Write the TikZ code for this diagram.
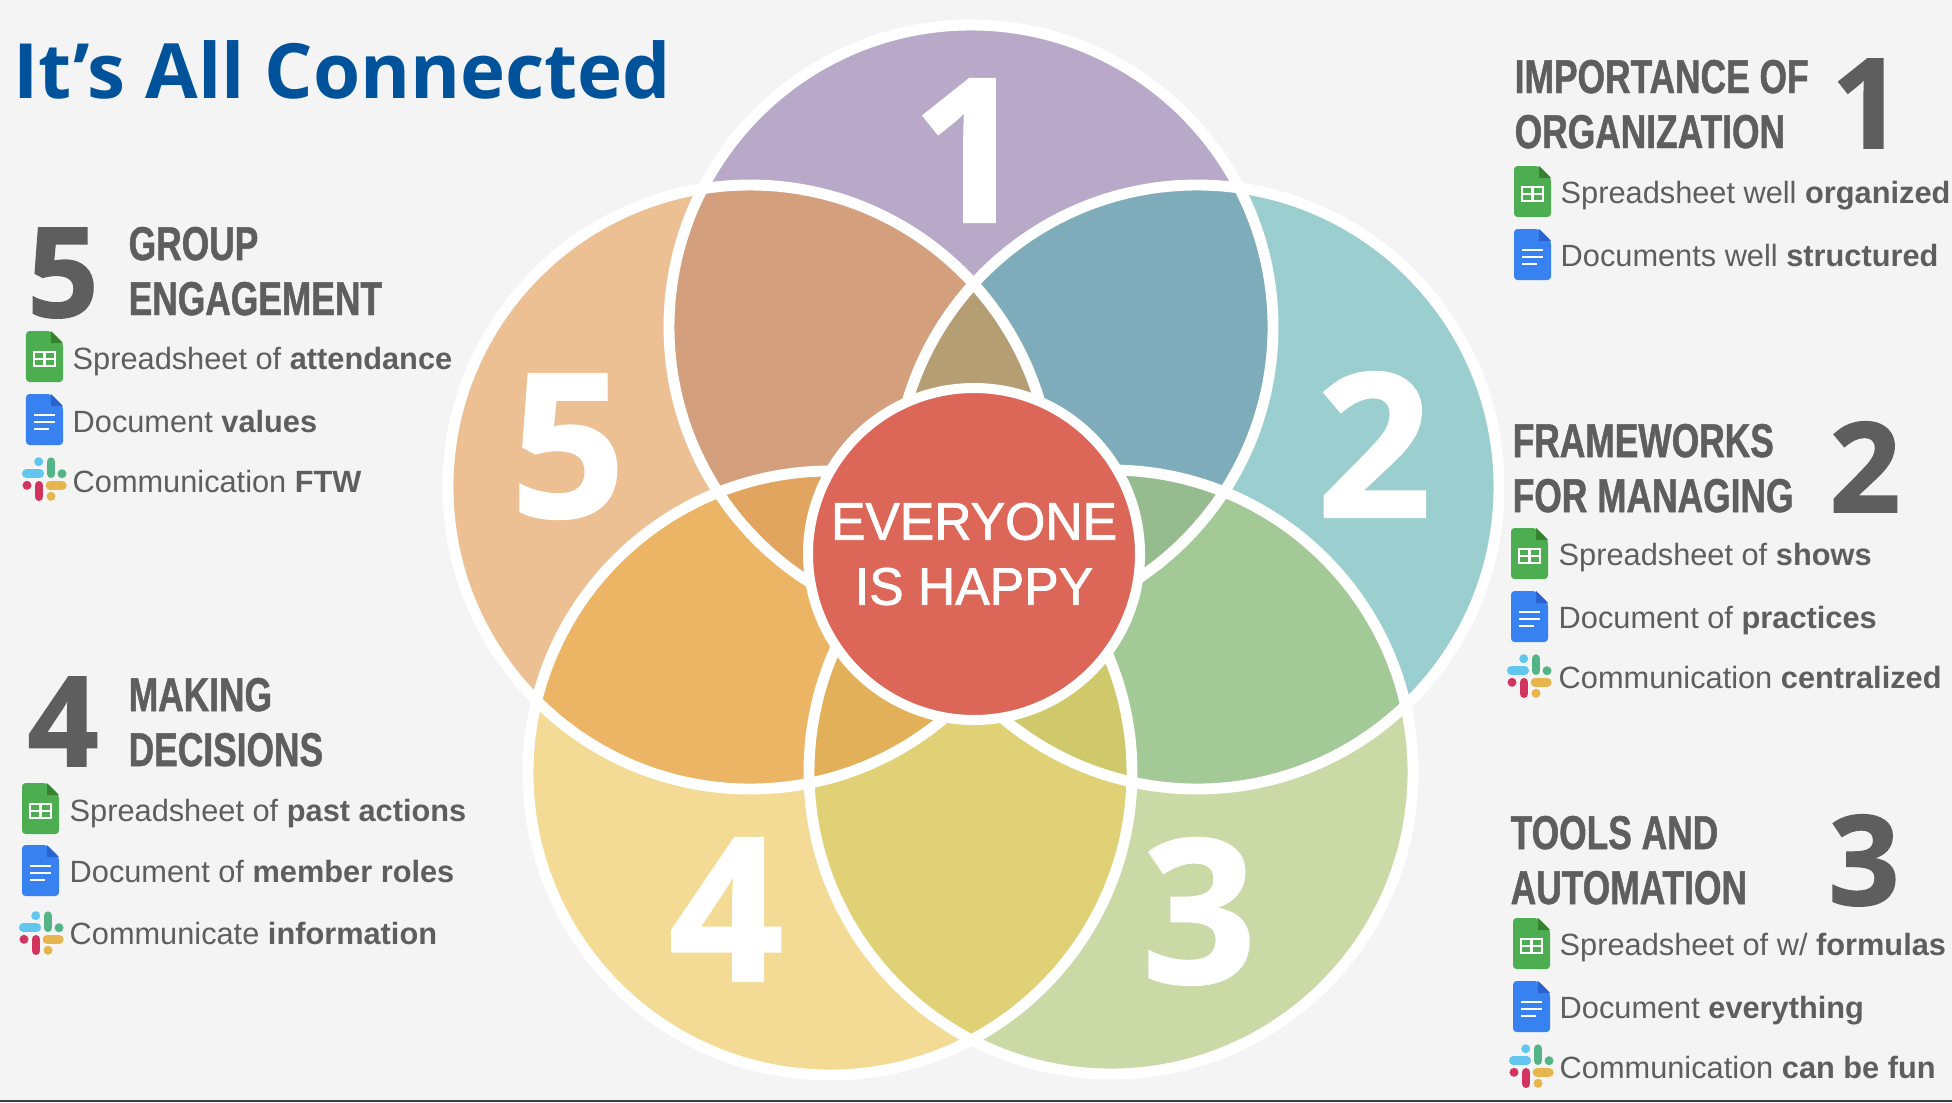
\documentclass[tikz,border=0pt]{standalone}
\usepackage{fontspec}
\setmainfont{Liberation Sans}
\newfontfamily\titlefont{Open Sans}
\newfontfamily\numfont[BoldFeatures={FakeBold=1.2}]{Open Sans}
\newfontfamily\headfont[FakeStretch=0.745,BoldFeatures={FakeBold=1}]{Liberation Sans}
\newfontfamily\happyfont[FakeStretch=0.98,FakeBold=1.5]{Liberation Sans}
\definecolor{pagegray}{HTML}{F4F4F4}
\definecolor{inkgray}{HTML}{5E5E5E}
\definecolor{titleblue}{HTML}{00539B}
\definecolor{centerred}{HTML}{DC6658}
\definecolor{regA}{HTML}{B9A9C9}
\definecolor{regB}{HTML}{9BCFCF}
\definecolor{regC}{HTML}{CBD9A6}
\definecolor{regD}{HTML}{F3DB96}
\definecolor{regE}{HTML}{ECC092}
\definecolor{regAB}{HTML}{7EACBA}
\definecolor{regBC}{HTML}{A3C997}
\definecolor{regCD}{HTML}{E0D176}
\definecolor{regDE}{HTML}{ECB566}
\definecolor{regEA}{HTML}{D39F7D}
\definecolor{regABE}{HTML}{B69E74}
\definecolor{regABC}{HTML}{96BB8E}
\definecolor{regBCD}{HTML}{D0C96C}
\definecolor{regCDE}{HTML}{E3B05A}
\definecolor{regDEA}{HTML}{E1A55F}
\definecolor{sheetgreen}{HTML}{4CAE50}
\definecolor{sheetfold}{HTML}{38812F}
\definecolor{docblue}{HTML}{3881F0}
\definecolor{docfold}{HTML}{2A62D0}
\definecolor{slackblue}{HTML}{62C6EE}
\definecolor{slackgreen}{HTML}{53B585}
\definecolor{slackyellow}{HTML}{E6B54B}
\definecolor{slackred}{HTML}{D3345F}
\tikzset{
  bignum/.style={white,anchor=base,font=\numfont\bfseries\fontsize{57}{60}\selectfont},
  sidenum/.style={inkgray,anchor=base,font=\numfont\bfseries\fontsize{35.5}{38}\selectfont},
  headtext/.style={inkgray,anchor=base west,inner sep=0pt,font=\headfont\bfseries\fontsize{13.5}{15}\selectfont},
  bodytext/.style={inkgray,anchor=base west,inner sep=0pt,font=\fontsize{8.75}{10}\selectfont},
  sheeticon/.pic={
    \fill[sheetgreen,rounded corners=1pt] (0,0)--(.25,0)--(.37,.12)--(.37,.51)--(0,.51)--cycle;
    \fill[sheetfold] (.25,0)--(.37,.12)--(.25,.12)--cycle;
    \draw[white,line width=.8pt] (.08,.21) rectangle (.29,.35) (.185,.21)--(.185,.35) (.08,.28)--(.29,.28);
  },
  docicon/.pic={
    \fill[docblue,rounded corners=1pt] (0,0)--(.25,0)--(.37,.12)--(.37,.51)--(0,.51)--cycle;
    \fill[docfold] (.25,0)--(.37,.12)--(.25,.12)--cycle;
    \draw[white,line width=.75pt] (.08,.21)--(.29,.21) (.08,.28)--(.29,.28) (.08,.35)--(.23,.35);
  },
  slackicon/.pic={
    \begin{scope}[line width=2.47pt,line cap=round]
    \draw[slackblue] (.043,.167)--(.177,.167);
    \fill[slackblue] (.167,.047) circle (.045);
    \draw[slackgreen] (.29,.047)--(.29,.167);
    \fill[slackgreen] (.40,.167) circle (.045);
    \draw[slackyellow] (.28,.283)--(.403,.283);
    \fill[slackyellow] (.29,.393) circle (.045);
    \draw[slackred] (.17,.283)--(.17,.397);
    \fill[slackred] (.05,.283) circle (.045);
    \end{scope}
  }
}

\begin{document}
\begin{tikzpicture}[y=-1cm]
\useasboundingbox (0,0) rectangle (19.52,11.02);
\fill[pagegray] (0,0) rectangle (19.52,11.02);
\fill[black!75] (0,11.0) rectangle (19.52,11.02);

\coordinate (cA) at (9.71,3.27);
\coordinate (cB) at (11.97,4.87);
\coordinate (cC) at (11.11,7.72);
\coordinate (cD) at (8.30,7.73);
\coordinate (cE) at (7.50,4.87);
\def\rr{3.02}

% the five circles and their overlaps
\foreach \c/\col in {cA/regA,cB/regB,cC/regC,cD/regD,cE/regE}{
  \fill[\col] (\c) circle (\rr);
}
\foreach \p/\q/\col in {cA/cB/regAB,cB/cC/regBC,cC/cD/regCD,cD/cE/regDE,cE/cA/regEA}{
  \begin{scope}
    \clip (\p) circle (\rr);
    \fill[\col] (\q) circle (\rr);
  \end{scope}
}
\foreach \p/\q/\s/\col in {cA/cB/cE/regABE,cA/cB/cC/regABC,cB/cC/cD/regBCD,cC/cD/cE/regCDE,cD/cE/cA/regDEA}{
  \begin{scope}
    \clip (\p) circle (\rr);
    \clip (\q) circle (\rr);
    \fill[\col] (\s) circle (\rr);
  \end{scope}
}
\foreach \c in {cA,cB,cC,cD,cE}{
  \draw[white,line width=3.1pt] (\c) circle (\rr);
}
\node[circle,fill=centerred,draw=white,line width=2.85pt,minimum size=3.32cm,inner sep=0pt,
  align=center,text=white,font=\happyfont\fontsize{15}{18.5}\selectfont] (happy) at (9.74,5.54) {EVERYONE\\IS HAPPY};

\node[bignum] (bigA) at (9.69,2.22) {1};
\node[bignum] (bigB) at (13.74,5.17) {2};
\node[bignum] (bigC) at (11.99,9.83) {3};
\node[bignum] (bigD) at (7.26,9.81) {4};
\node[bignum] (bigE) at (5.68,5.17) {5};

\node[titleblue,anchor=base west,inner sep=0pt,font=\titlefont\bfseries\fontsize{21.7}{24}\selectfont] (title) at (.13,.98) {It’s All Connected};

% right column
\node[headtext] (headAa) at (15.14,.93) {IMPORTANCE OF};
\node[headtext] (headAb) at (15.14,1.48) {ORGANIZATION};
\node[sidenum] (numA) at (18.67,1.48) {1};
\pic at (15.14,1.66) {sheeticon};
\pic at (15.14,2.29) {docicon};
\node[bodytext] (txtAa) at (15.60,2.03) {Spreadsheet well \textbf{organized}};
\node[bodytext] (txtAb) at (15.60,2.66) {Documents well \textbf{structured}};

\node[headtext] (headBa) at (15.12,4.57) {FRAMEWORKS};
\node[headtext] (headBb) at (15.12,5.12) {FOR MANAGING};
\node[sidenum] (numB) at (18.65,5.12) {2};
\pic at (15.11,5.28) {sheeticon};
\pic at (15.11,5.91) {docicon};
\pic at (15.07,6.54) {slackicon};
\node[bodytext] (txtBa) at (15.58,5.65) {Spreadsheet of \textbf{shows}};
\node[bodytext] (txtBb) at (15.58,6.28) {Document of \textbf{practices}};
\node[bodytext] (txtBc) at (15.58,6.88) {Communication \textbf{centralized}};

\node[headtext] (headCa) at (15.10,8.49) {TOOLS AND};
\node[headtext] (headCb) at (15.10,9.04) {AUTOMATION};
\node[sidenum] (numC) at (18.64,9.05) {3};
\pic at (15.13,9.18) {sheeticon};
\pic at (15.13,9.81) {docicon};
\pic at (15.09,10.44) {slackicon};
\node[bodytext] (txtCa) at (15.59,9.55) {Spreadsheet of w/ \textbf{formulas}};
\node[bodytext] (txtCb) at (15.59,10.18) {Document \textbf{everything}};
\node[bodytext] (txtCc) at (15.59,10.78) {Communication \textbf{can be fun}};

% left column
\node[sidenum] (numE) at (.63,3.17) {5};
\node[headtext] (headEa) at (1.28,2.60) {GROUP};
\node[headtext] (headEb) at (1.28,3.15) {ENGAGEMENT};
\pic at (.26,3.31) {sheeticon};
\pic at (.26,3.94) {docicon};
\pic at (.22,4.57) {slackicon};
\node[bodytext] (txtEa) at (.72,3.69) {Spreadsheet of \textbf{attendance}};
\node[bodytext] (txtEb) at (.72,4.32) {Document \textbf{values}};
\node[bodytext] (txtEc) at (.72,4.92) {Communication \textbf{FTW}};

\node[sidenum] (numD) at (.63,7.66) {4};
\node[headtext] (headDa) at (1.28,7.11) {MAKING};
\node[headtext] (headDb) at (1.28,7.66) {DECISIONS};
\pic at (.22,7.83) {sheeticon};
\pic at (.22,8.45) {docicon};
\pic at (.19,9.11) {slackicon};
\node[bodytext] (txtDa) at (.69,8.21) {Spreadsheet of \textbf{past actions}};
\node[bodytext] (txtDb) at (.69,8.82) {Document of \textbf{member roles}};
\node[bodytext] (txtDc) at (.69,9.44) {Communicate \textbf{information}};
\end{tikzpicture}
\end{document}
